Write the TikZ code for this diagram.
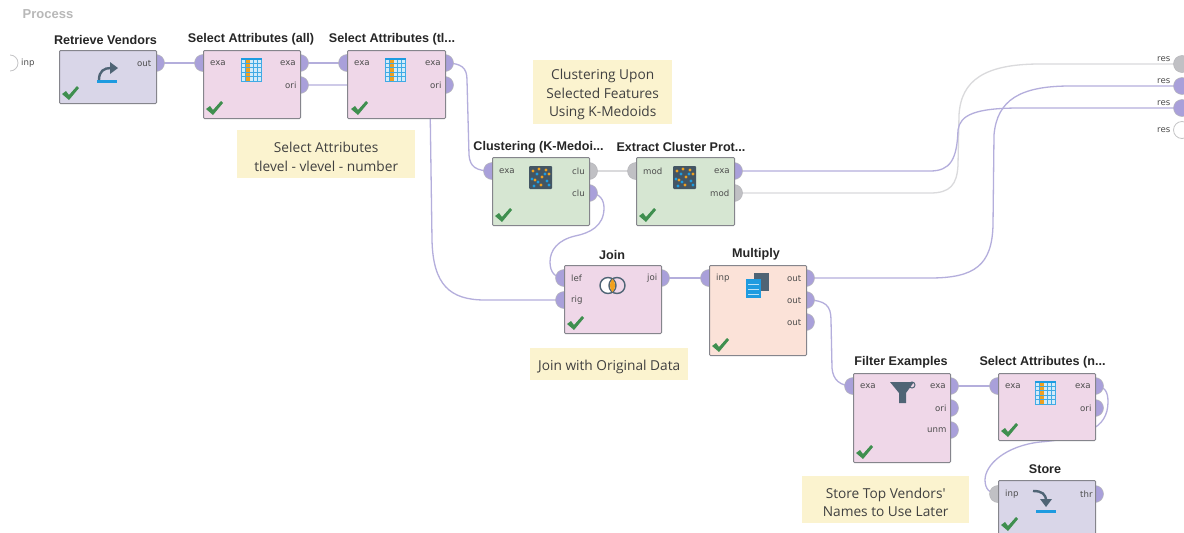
\documentclass[tikz,border=0pt]{standalone}
\usepackage{fontspec}
\setmainfont{Liberation Sans}
\newfontfamily\notefont{Open Sans}
\newfontfamily\portfont{DejaVu Sans}
\pgfdeclarelayer{bg}
\pgfsetlayers{bg,main}
\definecolor{pinkop}{HTML}{EFD7E8}
\definecolor{lavop}{HTML}{D9D6E8}
\definecolor{greenop}{HTML}{D6E6D2}
\definecolor{peachop}{HTML}{FBE2D8}
\definecolor{notebg}{HTML}{FBF3CF}
\definecolor{portp}{HTML}{A9A0DA}
\definecolor{portg}{HTML}{C0C0C4}
\definecolor{linep}{HTML}{B4AEDC}
\definecolor{lineg}{HTML}{DADADC}
\definecolor{edge}{HTML}{85858C}
\definecolor{chkg}{HTML}{3F8F4F}
\definecolor{slate}{HTML}{4F6475}
\definecolor{iblue}{HTML}{1E9BE0}
\definecolor{iorange}{HTML}{F0A01E}
\tikzset{
  x=1pt,y=-1pt,
  opbox/.style={draw=edge,line width=1pt,rounded corners=1pt,anchor=north west,inner sep=0pt},
  optitle/.style={font=\bfseries\fontsize{12.6}{14}\selectfont,text=black!85,inner sep=0pt},
  portp/.style={circle,draw=edge!60,line width=.5pt,fill=portp,minimum size=17pt,inner sep=0pt},
  portg/.style={circle,draw=edge!60,line width=.5pt,fill=portg,minimum size=17pt,inner sep=0pt},
  porto/.style={circle,draw=lineg!90!black,line width=.8pt,fill=white,minimum size=17pt,inner sep=0pt},
  plabel/.style={font=\portfont\fontsize{8.6}{10}\selectfont,text=black!70,inner sep=0pt},
  note/.style={fill=notebg,anchor=north west,inner sep=0pt},
  notetext/.style={inner sep=0pt,align=center,text=black!75,yshift=-2.5pt,
     font=\notefont\fontsize{13.7}{18.5}\selectfont},
  wire/.style={draw=linep,line width=1.3pt},
  wireg/.style={draw=lineg,line width=1.3pt},
}
\newcommand{\opbx}[6]{\node[opbox,fill=#6,minimum width=#4pt,minimum height=#5pt] (#1) at (#2,#3) {};}
\newcommand{\chk}[2]{\fill[chkg,shift={(#1,#2)}] (0,8)--(4,5)--(7,9)--(15,0)--(17,2)--(7,14)--cycle;}
\newcommand{\tblicon}[2]{\begin{scope}[shift={(#1,#2)}]
  \fill[iblue!20] (0,0) rectangle (21,24);
  \fill[iorange] (4,1) rectangle (9,24);
  \draw[iblue!85,line width=.6pt] (0,5)--(21,5) (0,9.5)--(21,9.5) (0,14)--(21,14) (0,18.5)--(21,18.5) (0,23.5)--(21,23.5)
     (.3,0)--(.3,24) (4,0)--(4,24) (12.5,0)--(12.5,24) (16.5,0)--(16.5,24) (20.7,0)--(20.7,24);
  \fill[iblue] (0,0) rectangle (21,1.6);
\end{scope}}
\newcommand{\clicon}[2]{\begin{scope}[shift={(#1,#2)}]
  \fill[rounded corners=1pt,fill=slate!85!black] (0,0) rectangle (23,23);
  \foreach \a/\b in {4/5,10/3,17/4,20/8,13/11,12/19,6/14}{\fill[iorange] (\a,\b) circle (1.6);}
  \foreach \a/\b in {8/8,16/8,3/13,18/15,9/16,20/19,5/20}{\fill[iblue] (\a,\b) circle (1.7);}
\end{scope}}
\begin{document}
\begin{tikzpicture}
\useasboundingbox (0,0) rectangle (1184,533);
\begin{pgfonlayer}{bg}\fill[white] (0,0) rectangle (1184,533);\end{pgfonlayer}

\node[font=\bfseries\fontsize{13}{15}\selectfont,text=black!28,inner sep=0pt] (proc) at (48,14) {Process};

% ports
\node[porto,minimum size=16pt] (pin) at (10,63) {};
\fill[white] (0,54) rectangle (10,72);
\node[plabel,anchor=west] (lin) at (21,63.5) {inp};

\foreach \n/\x/\y/\s in {
  rout/156/63/portp, aexa/203/63/portp, aox/300/63/portp, aori/300/85/portp,
  texa/347/63/portp, tox/445/63/portp, tori/445/85/portp,
  cin/492/171/portp, cc1/589/171/portg, cc2/589/193/portp,
  emod/636/171/portg, eexa/734/171/portp, em2/734/193/portg,
  jl/564/278/portp, jr/564/300/portp, jo/661/278/portp,
  min/709/278/portp, m1/806/278/portp, m2/806/300/portp, m3/806/322/portp,
  fin/853/386/portp, f1/950/386/portp, f2/950/408/portp, f3/950/430/portp,
  nin/998/386/portp, n1/1095/386/portp, n2/1095/408/portp,
  sin/998/494/portg, sth/1095/494/portp,
  r1/1182/64/portg, r2/1182/86/portp, r3/1182/108/portp}
  {\node[\s] (\n) at (\x,\y) {};}
\node[porto] (r4) at (1182,130) {};

% boxes
\opbx{retr}{59}{50}{97}{53}{lavop}
\opbx{sall}{203}{50}{97}{68}{pinkop}
\opbx{stl}{347}{50}{98}{68}{pinkop}
\opbx{clus}{492}{157}{97}{68}{greenop}
\opbx{extr}{636}{157}{98}{68}{greenop}
\opbx{join}{564}{265}{97}{68}{pinkop}
\opbx{mult}{709}{265}{97}{90}{peachop}
\opbx{filt}{853}{373}{97}{89}{pinkop}
\opbx{snam}{998}{373}{97}{67}{pinkop}
\opbx{stor}{998}{480}{97}{56}{lavop}

% titles
\node[optitle] (t1) at (105.5,39.5) {Retrieve Vendors};
\node[optitle] (t2) at (251,39.5) {Select Attributes (all)};
\node[optitle] (t3) at (392,39.5) {Select Attributes (tl...};
\node[optitle] (t4) at (538.5,147) {Clustering (K-Medoi...};
\node[optitle] (t5) at (681,147) {Extract Cluster Prot...};
\node[optitle] (t6) at (612,254.5) {Join};
\node[optitle] (t7) at (756,254.5) {Multiply};
\node[optitle] (t8) at (901,362) {Filter Examples};
\node[optitle] (t9) at (1042.5,362) {Select Attributes (n...};
\node[optitle] (t10) at (1045,469.5) {Store};

% port labels
\foreach \i/\x/\y/\t in {
  a/137/63.5/out, b/210/63.5/exa, c/280/63.5/exa, d/285/85.5/ori,
  e/354/63.5/exa, f/425/63.5/exa, g/430/85.5/ori,
  h/499/171.5/exa, i/572/171.5/clu, j/572/193.5/clu,
  k/643/171.5/mod, l/714/171.5/exa, m/710/193.5/mod,
  n/571/278.5/lef, o/571/300.5/rig, p/647/278.5/joi,
  q/716/278.5/inp, r/787/278.5/out, s/787/300.5/out, t/787/322.5/out,
  u/860/386.5/exa, v/930/386.5/exa, w/935/408.5/ori, x/927/430.5/unm,
  y/1005/386.5/exa, z/1075/386.5/exa, A/1080/408.5/ori,
  B/1005/494.5/inp, C/1080/494.5/thr,
  D/1157/59/res, E/1157/81/res, F/1157/103/res, G/1157/130/res}
  {\node[plabel,anchor=west] (pl\i) at (\x,\y) {\t};}

% notes
\node[note,minimum width=178pt,minimum height=48pt] (n1note) at (237,130) {};
\node[notetext] (n1text) at (n1note.center) {Select Attributes\\tlevel - vlevel - number};
\node[note,minimum width=139pt,minimum height=64pt] (n2note) at (533,60) {};
\node[notetext] (n2text) at (n2note.center) {Clustering Upon\\Selected Features\\Using K-Medoids};
\node[note,minimum width=158pt,minimum height=32pt] (n3note) at (530,348) {};
\node[notetext] (n3text) at (n3note.center) {Join with Original Data};
\node[note,minimum width=167pt,minimum height=47pt] (n4note) at (802,476) {};
\node[notetext] (n4text) at (n4note.center) {Store Top Vendors'\\Names to Use Later};

% check marks
\chk{62}{86}\chk{206}{101}\chk{351}{101}\chk{495}{208}\chk{639}{208}
\chk{567}{316}\chk{712}{338}\chk{856}{445}\chk{1001}{423}\chk{1001}{517}

% icons
\tblicon{241}{58}\tblicon{385}{58}\tblicon{1035}{381}
\clicon{529}{166}\clicon{673}{166}
% retrieve
\fill[iblue] (97,80) rectangle (117,82.5);
\draw[slate,line width=2.4pt] (99,80) .. controls (99,71) and (104,68) .. (111,68);
\fill[slate] (110,62) -- (118,68) -- (110,74) -- cycle;
% store
\fill[iblue] (1036,510) rectangle (1056,512.5);
\draw[slate,line width=2.4pt] (1033,491) .. controls (1042,491) and (1046,494) .. (1046,501);
\fill[slate] (1040,499) -- (1046,507) -- (1052,499) -- cycle;
% join
\draw[slate,line width=1.4pt,fill=white] (608,285.5) ellipse (8 and 8);
\draw[slate,line width=1.4pt] (617,285.5) ellipse (8 and 8);
\fill[iorange] (612.5,279) .. controls (609,283) and (609,288) .. (612.5,292) .. controls (616,288) and (616,283) .. (612.5,279);
% multiply
\fill[slate] (754,273) rectangle (769,291);
\fill[iblue] (746,279) rectangle (761,298);
\draw[white!70!iblue,line width=.4pt] (748,284)--(759,284) (748,289)--(759,289) (748,294)--(759,294);
% filter
\fill[slate] (890,382) -- (914,382) -- (906,393) -- (906,403) -- (899,403) -- (899,393) -- cycle;
\draw[slate,line width=1pt] (912,385) circle (3);

% connectors
\begin{pgfonlayer}{bg}
\draw[wire] (rout.center) -- (aexa.center);
\draw[wire] (aox.center) -- (texa.center);
\draw[wire] (aori.center) -- (415,85) .. controls (426,85) and (430,90) .. (430,100)
   -- (432,240) .. controls (433,285) and (450,300) .. (485,300) -- (jr.center);
\draw[wire] (tox.center) .. controls (462,63) and (467,68) .. (467,80)
   -- (469,155) .. controls (470,167) and (476,171) .. (cin.center);
\draw[wireg] (cc1.center) -- (emod.center);
\draw[wire] (cc2.center) .. controls (600,193) and (604,200) .. (604,208)
   .. controls (604,226) and (590,233) .. (575,236)
   .. controls (558,240) and (550,250) .. (550,262)
   .. controls (550,272) and (555,278) .. (jl.center);
\draw[wire] (jo.center) -- (min.center);
\draw[wireg] (em2.center) -- (930,193) .. controls (950,193) and (957,185) .. (958,165)
   -- (959,115) .. controls (961,80) and (985,64) .. (1040,64) -- (r1.center);
\draw[wire] (eexa.center) -- (930,171) .. controls (950,171) and (957,160) .. (958,130)
   .. controls (960,115) and (975,108) .. (1020,108) -- (r3.center);
\draw[wire] (m1.center) -- (930,278) .. controls (975,278) and (992,265) .. (993,225)
   -- (994,135) .. controls (997,100) and (1020,86) .. (1070,86) -- (r2.center);
\draw[wire] (m2.center) .. controls (826,300) and (831,306) .. (831,320)
   -- (832,368) .. controls (833,380) and (840,386) .. (fin.center);
\draw[wire] (f1.center) -- (nin.center);
\draw[wire] (n1.center) .. controls (1105,386) and (1108,392) .. (1108,402)
   .. controls (1108,415) and (1102,425) .. (1090,430)
   .. controls (1080,436) and (1065,440) .. (1040,442)
   .. controls (1005,446) and (985,465) .. (985,480)
   .. controls (985,489) and (990,494) .. (sin.center);
\end{pgfonlayer}
\end{tikzpicture}
\end{document}
